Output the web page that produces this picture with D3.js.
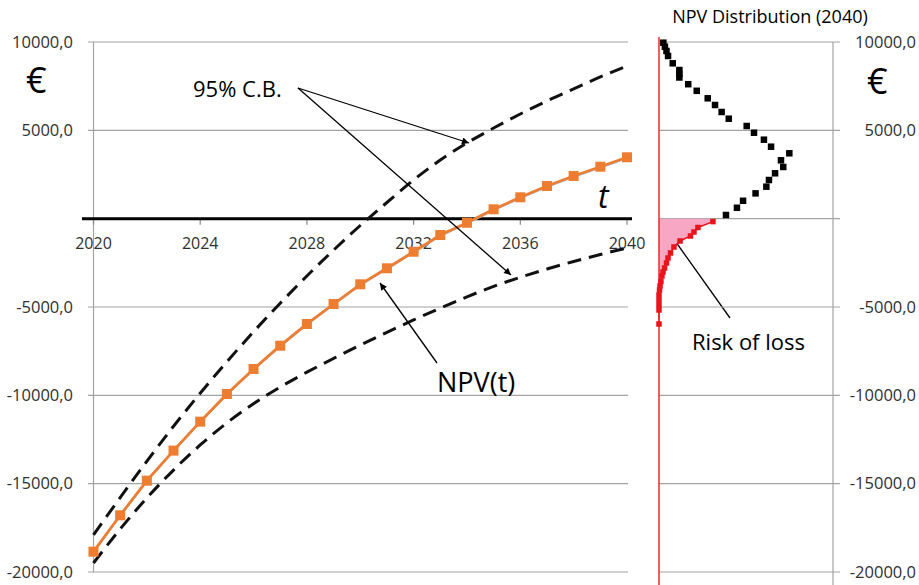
<!DOCTYPE html>
<html>
<head>
<meta charset="utf-8">
<script src="https://cdn.jsdelivr.net/npm/d3@7/dist/d3.min.js"></script>
<style>
  html, body { margin: 0; padding: 0; background: #fff; }
  svg { display: block; }
  text { font-family: "Open Sans", "Noto Sans", sans-serif; }
</style>
</head>
<body>
<svg id="chart" width="919" height="585"></svg>
<script>
// Years on the time axis
const years = [2020, 2021, 2022, 2023, 2024, 2025, 2026, 2027, 2028, 2029, 2030,
               2031, 2032, 2033, 2034, 2035, 2036, 2037, 2038, 2039, 2040];
// Expected net present value per year (€)
const npv = [-18850, -16790, -14830, -13130, -11490, -9925, -8510, -7190, -5960, -4830, -3715,
             -2810, -1870, -925, -230, 530, 1210, 1850, 2415, 2940, 3475];
// 95% confidence bounds (€)
const upperCB = [-17900, -15790, -13730, -11750, -9880, -8100, -6400, -4785, -3245, -1780, -387,
                 915, 2190, 3320, 4285, 5130, 5925, 6660, 7340, 8020, 8640];
const lowerCB = [-19490, -17570, -15810, -14230, -12810, -11560, -10470, -9530, -8690, -7910, -7160,
                 -6435, -5735, -5065, -4425, -3835, -3315, -2850, -2425, -2030, -1660];

// NPV distribution in 2040: gains (NPV >= 0) and losses (NPV < 0)
const gainNPV  = [9960, 9734, 9490, 9208, 8794, 8415, 8189, 7991, 7611, 7238, 6813, 6434, 6038, 5658,
                  5245, 4866, 4470, 4074, 3700, 3304, 2925, 2568, 2189, 1810, 1432, 1013, 617, 207];
const gainFreq = [0.25, 0.34, 0.43, 0.52, 0.79, 1.17, 1.17, 1.17, 1.68, 2.17, 2.80, 3.22, 3.60, 4.01,
                  5.04, 5.46, 6.03, 6.44, 7.49, 7.01, 7.14, 6.67, 6.32, 6.17, 5.55, 4.83, 4.48, 3.85];
const lossNPV  = [-165, -500, -755, -981, -1264, -1604, -1943, -2226, -2509, -2792, -3019, -3245,
                  -3556, -3811, -4038, -4321, -4604, -4887, -5170, -5962];
const lossFreq = [3.10, 2.24, 2.01, 1.81, 1.21, 0.86, 0.66, 0.52, 0.43, 0.32, 0.23, 0.17,
                  0.11, 0.06, 0.03, 0, 0, 0, 0, 0];

// Axis ticks
const yTicks = [10000, 5000, 0, -5000, -10000, -15000, -20000];
const xTicks = [2020, 2024, 2028, 2032, 2036, 2040];

const svg = d3.select("#chart");
const fmt = v => v.toFixed(1).replace(".", ",");

const y = d3.scaleLinear().domain([-20000, 10000]).range([572, 42]);
const x = d3.scaleLinear().domain([2020, 2040]).range([93.5, 627]);
const f = d3.scaleLinear().domain([0, 10]).range([659, 833]);

const gridColor = "#a3a3a3";
const labelColor = "#2f2f2f";

// arrow head
svg.append("defs").append("marker")
  .attr("id", "arrow").attr("viewBox", "0 0 10 10")
  .attr("refX", 10).attr("refY", 5)
  .attr("markerWidth", 9).attr("markerHeight", 7)
  .attr("markerUnits", "userSpaceOnUse")
  .attr("orient", "auto")
  .append("path").attr("d", "M0,0 L10,5 L0,10 z").attr("fill", "#000");

// ---------- left panel: NPV over time ----------
const left = svg.append("g");

left.selectAll("line.grid").data(yTicks.filter(t => t !== 0)).join("line")
  .attr("x1", 88).attr("x2", 628)
  .attr("y1", d => y(d)).attr("y2", d => y(d))
  .attr("stroke", gridColor).attr("stroke-width", 1.2);

left.append("line")
  .attr("x1", x(2020)).attr("x2", x(2020))
  .attr("y1", y(10000)).attr("y2", y(-20000))
  .attr("stroke", gridColor).attr("stroke-width", 1.2);

left.selectAll("text.ylab").data(yTicks.filter(t => t !== 0)).join("text")
  .attr("x", 73).attr("y", d => y(d)).attr("dy", "0.35em")
  .attr("text-anchor", "end").attr("font-size", 16.5).attr("fill", labelColor)
  .text(fmt);

// time axis along NPV = 0
left.selectAll("line.xtick").data(xTicks).join("line")
  .attr("x1", d => x(d)).attr("x2", d => x(d))
  .attr("y1", y(0)).attr("y2", y(0) + 6)
  .attr("stroke", "#888").attr("stroke-width", 1.2);
left.append("line")
  .attr("x1", 82).attr("x2", 632)
  .attr("y1", y(0)).attr("y2", y(0))
  .attr("stroke", "#000").attr("stroke-width", 3);
left.selectAll("text.xlab").data(xTicks).join("text")
  .attr("x", d => x(d)).attr("y", y(0) + 30)
  .attr("text-anchor", "middle").attr("font-size", 16).attr("fill", labelColor)
  .text(d => d);

// confidence bounds
const dashLine = arr => d3.line()
  .x((d, i) => x(years[i])).y(d => y(d))
  .curve(d3.curveMonotoneX)(arr);
[upperCB, lowerCB].forEach(arr => {
  left.append("path").attr("d", dashLine(arr))
    .attr("fill", "none").attr("stroke", "#111")
    .attr("stroke-width", 3).attr("stroke-dasharray", "14,8");
});

// expected NPV
const npvLine = d3.line().x((d, i) => x(years[i])).y(d => y(d));
left.append("path").attr("d", npvLine(npv))
  .attr("fill", "none").attr("stroke", "#9dc3e6").attr("stroke-width", 1)
  .attr("transform", "translate(0,1.5)");
left.append("path").attr("d", npvLine(npv))
  .attr("fill", "none").attr("stroke", "#ED7D31").attr("stroke-width", 2.8);
const ms = 10;
left.selectAll("rect.npv").data(npv).join("rect")
  .attr("x", (d, i) => x(years[i]) - ms / 2).attr("y", d => y(d) - ms / 2)
  .attr("width", ms).attr("height", ms).attr("fill", "#ED7D31");

// annotations
const ann = svg.append("g").attr("fill", "#000");
ann.append("text").attr("x", 193).attr("y", 97).attr("font-size", 22).text("95% C.B.");
ann.append("text").attr("x", 437).attr("y", 392).attr("font-size", 27).text("NPV(t)");
ann.append("text").attr("x", 692).attr("y", 350).attr("font-size", 22).text("Risk of loss");
ann.append("text").attr("x", 598).attr("y", 208).attr("font-size", 32)
  .attr("font-style", "italic").text("t");
ann.append("text").attr("x", 26).attr("y", 93).attr("font-size", 36).text("€");
ann.append("text").attr("x", 867).attr("y", 94).attr("font-size", 36).text("€");

const arrows = [
  [298, 88, 469, 143],
  [298, 88, 511, 275],
  [437, 363, 380, 283],
  [730, 318, 673, 238]
];
svg.selectAll("line.arrow").data(arrows).join("line")
  .attr("x1", d => d[0]).attr("y1", d => d[1])
  .attr("x2", d => d[2]).attr("y2", d => d[3])
  .attr("stroke", "#000").attr("stroke-width", 1.3)
  .attr("marker-end", "url(#arrow)");

// ---------- right panel: NPV distribution in 2040 ----------
const right = svg.append("g");

right.selectAll("line.grid").data(yTicks).join("line")
  .attr("x1", f(0)).attr("x2", 840)
  .attr("y1", d => y(d)).attr("y2", d => y(d))
  .attr("stroke", gridColor).attr("stroke-width", 1.2);
right.append("line")
  .attr("x1", f(10)).attr("x2", f(10))
  .attr("y1", y(10000)).attr("y2", 585)
  .attr("stroke", gridColor).attr("stroke-width", 1.2);

right.selectAll("text.ylab").data(yTicks.filter(t => t !== 0)).join("text")
  .attr("x", 916).attr("y", d => y(d)).attr("dy", "0.35em")
  .attr("text-anchor", "end").attr("font-size", 16.5).attr("fill", labelColor)
  .text(fmt);

right.append("text").attr("x", 770).attr("y", 23)
  .attr("text-anchor", "middle").attr("font-size", 18).attr("fill", "#000")
  .text("NPV Distribution (2040)");

// loss region
const loss = lossNPV.map((v, i) => ({ v, fr: lossFreq[i] }));
const lossArea = [{ v: 0, fr: lossFreq[0] }].concat(loss);
right.append("path")
  .attr("d", d3.area().y(d => y(d.v)).x0(f(0)).x1(d => f(d.fr))(lossArea))
  .attr("fill", "#F7A6C4");
right.append("path")
  .attr("d", d3.line().x(d => f(d.fr)).y(d => y(d.v))(loss))
  .attr("fill", "none").attr("stroke", "#E8131B").attr("stroke-width", 1.5);

// zero-frequency axis
right.append("line")
  .attr("x1", f(0)).attr("x2", f(0))
  .attr("y1", 37).attr("y2", 585)
  .attr("stroke", "#F0282D").attr("stroke-width", 1.5);

const rs = 5.5;
right.selectAll("rect.loss").data(loss).join("rect")
  .attr("x", d => f(d.fr) - rs / 2).attr("y", d => y(d.v) - rs / 2)
  .attr("width", rs).attr("height", rs).attr("fill", "#E8131B");

const bs = 6.5;
right.selectAll("rect.gain").data(gainNPV).join("rect")
  .attr("x", (d, i) => f(gainFreq[i]) - bs / 2).attr("y", d => y(d) - bs / 2)
  .attr("width", bs).attr("height", bs).attr("fill", "#000");
</script>
</body>
</html>
